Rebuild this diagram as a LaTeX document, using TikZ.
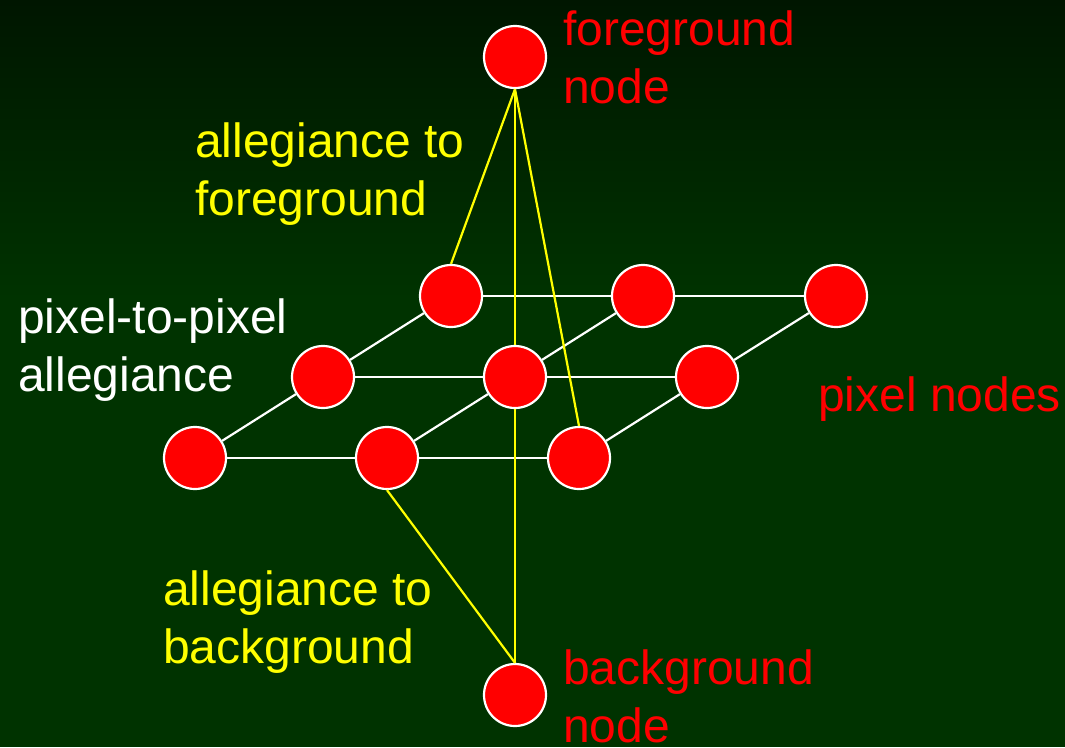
\documentclass[tikz,border=0pt]{standalone}
\usepackage{fontspec}
\setmainfont{Liberation Sans}
\definecolor{bgtop}{HTML}{001600}
\definecolor{bgbot}{HTML}{003300}
\definecolor{lblred}{HTML}{FF0000}
\definecolor{lblyel}{HTML}{FFFF00}
\tikzset{
  pix/.style={circle, fill=lblred, draw=white, line width=2.2pt, minimum size=62pt, inner sep=0pt},
  grid/.style={draw=white, line width=2.2pt},
  alleg/.style={draw=lblyel, line width=2.2pt},
  lbl/.style={font=\fontsize{48}{58}\selectfont, inner sep=0pt, align=left, anchor=base west}
}
\begin{document}
\begin{tikzpicture}[x=1pt,y=-1pt]
\useasboundingbox (0,0) rectangle (1065,747);
\shade[top color=bgtop, bottom color=bgbot] (0,0) rectangle (1065,300);
\fill[bgbot] (0,299.5) rectangle (1065,747);

\node[pix] (fg) at (515,57) {};
\node[pix] (t1) at (451,296) {};
\node[pix] (t2) at (643,296) {};
\node[pix] (t3) at (836,296) {};
\node[pix] (m1) at (323,377) {};
\node[pix] (m2) at (515,377) {};
\node[pix] (m3) at (707,377) {};
\node[pix] (b1) at (195,458) {};
\node[pix] (b2) at (387,458) {};
\node[pix] (b3) at (579,458) {};
\node[pix] (bg) at (515,695) {};

\draw[grid] (t1) -- (t2); \draw[grid] (t2) -- (t3);
\draw[grid] (m1) -- (m2); \draw[grid] (m2) -- (m3);
\draw[grid] (b1) -- (b2); \draw[grid] (b2) -- (b3);
\draw[grid] (b1) -- (m1); \draw[grid] (m1) -- (t1);
\draw[grid] (b2) -- (m2); \draw[grid] (m2) -- (t2);
\draw[grid] (b3) -- (m3); \draw[grid] (m3) -- (t3);

\draw[alleg] (fg.south) -- (t1.north);
\draw[alleg] (fg.south) -- (m2.north);
\draw[alleg] (fg.south) -- (b3.north);
\draw[alleg] (bg.north) -- (m2.south);
\draw[alleg] (bg.north) -- (b2.south);

\node[lbl, text=lblred] (fgl) at (563,103) {foreground\\node};
\node[lbl, text=lblyel] (afl) at (195,215) {allegiance to\\foreground};
\node[lbl, text=white] (ppl) at (18,391) {pixel-to-pixel\\allegiance};
\node[lbl, text=lblred] (pnl) at (818,411) {pixel nodes};
\node[lbl, text=lblyel] (abl) at (163,663) {allegiance to\\background};
\node[lbl, text=lblred] (bgl) at (563,742) {background\\node};
\end{tikzpicture}
\end{document}
